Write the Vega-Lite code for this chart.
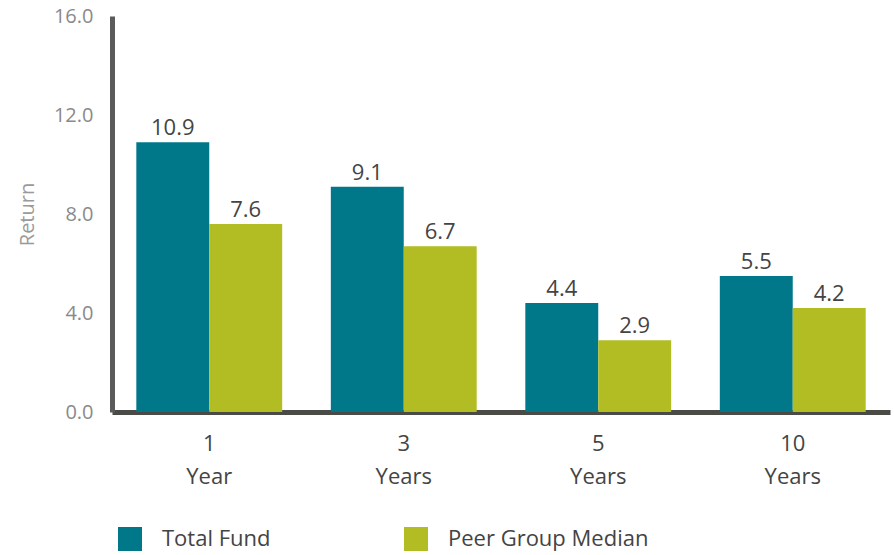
{
  "$schema": "https://vega.github.io/schema/vega-lite/v6.json",
  "width": 778,
  "height": 396,
  "autosize": {"type": "none"},
  "padding": {"left": 112, "top": 16, "right": 4, "bottom": 143},
  "config": {"font": "Open Sans", "view": {"stroke": null}},
  "data": {
    "values": [
      {"period": "1 Year", "series": "Total Fund", "value": 10.9},
      {"period": "1 Year", "series": "Peer Group Median", "value": 7.6},
      {"period": "3 Years", "series": "Total Fund", "value": 9.1},
      {"period": "3 Years", "series": "Peer Group Median", "value": 6.7},
      {"period": "5 Years", "series": "Total Fund", "value": 4.4},
      {"period": "5 Years", "series": "Peer Group Median", "value": 2.9},
      {"period": "10 Years", "series": "Total Fund", "value": 5.5},
      {"period": "10 Years", "series": "Peer Group Median", "value": 4.2}
    ]
  },
  "encoding": {
    "x": {
      "field": "period",
      "type": "nominal",
      "sort": ["1 Year", "3 Years", "5 Years", "10 Years"],
      "scale": {"paddingInner": 0.25, "paddingOuter": 0.125},
      "axis": {
        "title": null,
        "labelAngle": 0,
        "labelExpr": "split(datum.label, ' ')",
        "domainColor": "#4a4a46",
        "domainWidth": 5,
        "ticks": false,
        "labelPadding": 21,
        "labelFontSize": 22,
        "labelColor": "#444444",
        "labelLineHeight": 33,
        "labelBaseline": "top"
      }
    },
    "xOffset": {"field": "series", "type": "nominal", "sort": ["Total Fund", "Peer Group Median"]},
    "y": {
      "field": "value",
      "type": "quantitative",
      "scale": {"domain": [0, 16]},
      "axis": {
        "values": [0, 4, 8, 12, 16],
        "format": ".1f",
        "grid": false,
        "ticks": false,
        "domainColor": "#5b5b5b",
        "domainWidth": 5,
        "labelPadding": 19,
        "labelFontSize": 20,
        "labelColor": "#8a8a8a",
        "title": "Return",
        "titleColor": "#9a9a9a",
        "titleFontSize": 20,
        "titleFontWeight": "normal",
        "titlePadding": 16
      }
    },
    "color": {
      "field": "series",
      "type": "nominal",
      "sort": ["Total Fund", "Peer Group Median"],
      "scale": {"domain": ["Total Fund", "Peer Group Median"], "range": ["#00788A", "#B1BD22"]},
      "legend": {
        "orient": "none",
        "legendX": 6,
        "legendY": 511,
        "direction": "horizontal",
        "title": null,
        "padding": 0,
        "symbolType": "square",
        "symbolSize": 576,
        "symbolOpacity": 1,
        "symbolStrokeWidth": 0,
        "labelFontSize": 22,
        "labelColor": "#444444",
        "labelOffset": 20,
        "labelLimit": 400,
        "labelBaseline": "middle",
        "columnPadding": 133
      }
    }
  },
  "layer": [
    {"mark": {"type": "bar", "opacity": 1}},
    {
      "mark": {"type": "text", "dy": -7, "baseline": "alphabetic", "fontSize": 22, "color": "#444444"},
      "encoding": {
        "text": {"field": "value", "type": "quantitative", "format": ".1f"},
        "color": {"value": "#444444"}
      }
    }
  ]
}
